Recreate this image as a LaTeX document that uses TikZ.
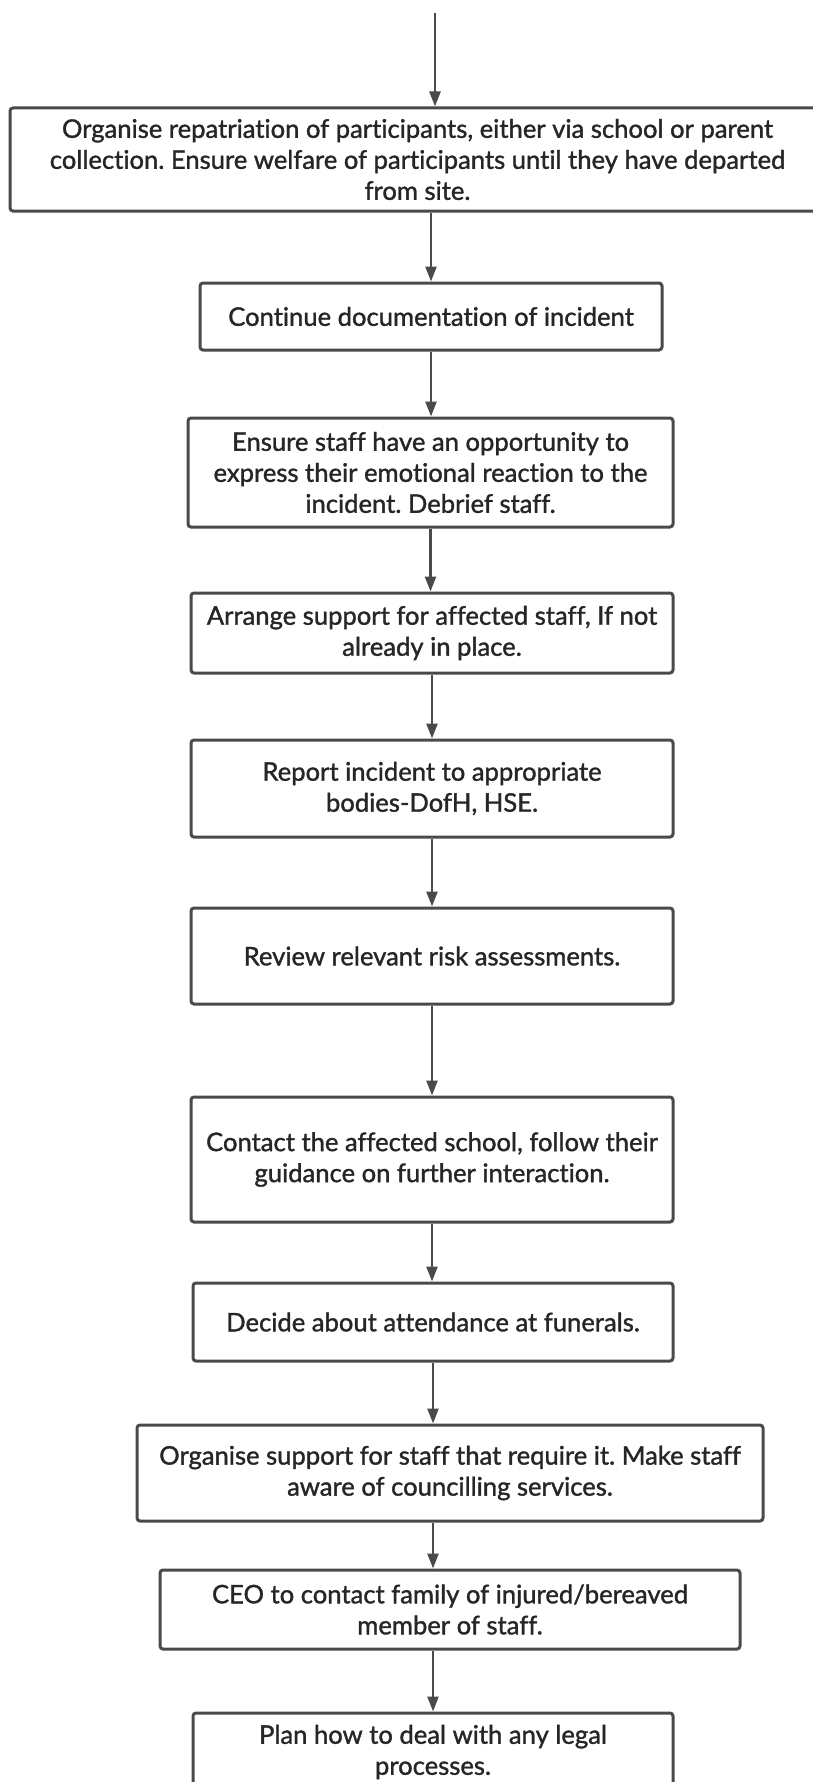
\documentclass[tikz,border=0pt]{standalone}
\usepackage{fontspec}
\setmainfont{Lato}[Ligatures=NoCommon]
\newfontfamily\boxfont{Lato}[Ligatures=NoCommon,FakeBold=1.3]
\usetikzlibrary{arrows.meta}
\definecolor{edgegray}{HTML}{4a4a4a}
\definecolor{ink}{HTML}{262626}
\frenchspacing
\begin{document}
\begin{tikzpicture}[x=1pt,y=-1pt,
  box/.style={draw=edgegray, line width=3pt, rounded corners=3pt, fill=white,
    align=center, text=ink, font=\boxfont\fontsize{25.6}{31}\selectfont, inner sep=0pt},
  flow/.style={draw=edgegray, line width=2.5pt, -{Triangle[length=15pt,width=11pt]}}]
\useasboundingbox (0,0) rectangle (813,1782);
\begin{scope}
\clip (0,0) rectangle (813,1782);
\node[box, minimum width=815pt, minimum height=103pt] (b1) at (417.5,159.5)
  {Organise repatriation of participants, either via school or parent\\
   collection. Ensure welfare of participants until they have departed\\
   from site.};
\node[box, minimum width=462pt, minimum height=67pt] (b2) at (431,316.5)
  {Continue documentation of incident};
\node[box, minimum width=485pt, minimum height=109pt] (b3) at (430.5,472.5)
  {Ensure staff have an opportunity to\\
   express their emotional reaction to the\\
   incident. Debrief staff.};
\node[box, minimum width=482pt, minimum height=80pt] (b4) at (432,633)
  {Arrange support for affected staff, If not\\
   already in place.};
\node[box, minimum width=482pt, minimum height=97pt] (b5) at (432,788.5)
  {Report incident to appropriate\\
   bodies-DofH, HSE.};
\node[box, minimum width=482pt, minimum height=96pt] (b6) at (432,956)
  {Review relevant risk assessments.};
\node[box, minimum width=482pt, minimum height=125pt] (b7) at (432,1159.5)
  {Contact the affected school, follow their\\
   guidance on further interaction.};
\node[box, minimum width=480pt, minimum height=78pt] (b8) at (433,1322)
  {Decide about attendance at funerals.};
\node[box, minimum width=626pt, minimum height=96pt] (b9) at (450,1473)
  {Organise support for staff that require it. Make staff\\
   aware of councilling services.};
\node[box, minimum width=580pt, minimum height=79pt] (b10) at (450,1609.5)
  {CEO to contact family of injured/bereaved\\
   member of staff.};
\node[box, minimum width=480pt, minimum height=78pt] (b11) at (433,1752)
  {Plan how to deal with any legal\\
   processes.};
\coordinate (top) at (435,13);
\draw[flow] (top) -- (top |- b1.north);
\draw[flow] (b2.north |- b1.south) -- (b2.north);
\draw[flow] (b2.south) -- (b2.south |- b3.north);
\draw[flow] (b3.south) -- (b3.south |- b4.north);
\draw[flow] (b4.south) -- (b4.south |- b5.north);
\draw[flow] (b5.south) -- (b5.south |- b6.north);
\draw[flow] (b6.south) -- (b6.south |- b7.north);
\draw[flow] (b7.south) -- (b7.south |- b8.north);
\draw[flow] (b8.south) -- (b8.south |- b9.north);
\draw[flow] (b8.south |- b9.south) -- (b8.south |- b10.north);
\draw[flow] (b8.south |- b10.south) -- (b11.north);
\end{scope}
\end{tikzpicture}
\end{document}
